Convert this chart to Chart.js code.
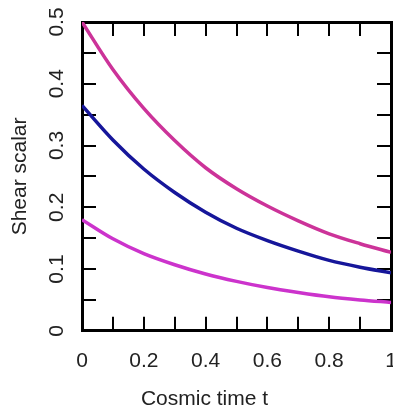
<!DOCTYPE html>
<html>
<head>
<meta charset="utf-8">
<script src="https://cdn.jsdelivr.net/npm/chart.js@4.4.1/dist/chart.umd.min.js"></script>
<style>
  html, body { margin: 0; padding: 0; background: #fff; }
  #wrap { width: 393px; height: 412px; }
</style>
</head>
<body>
<div id="wrap"><canvas id="shear-chart" width="393" height="412"></canvas></div>
<script>
// cosmic time samples and shear scalar values
var timeVals   = [0, 0.1, 0.2, 0.3, 0.4, 0.5, 0.6, 0.7, 0.8, 0.9, 1.0];
var shearUpper = [0.5, 0.423, 0.36, 0.308, 0.264, 0.23, 0.202, 0.178, 0.157, 0.141, 0.127];
var shearMid   = [0.365, 0.309, 0.262, 0.224, 0.192, 0.166, 0.146, 0.129, 0.114, 0.103, 0.094];
var shearLower = [0.18, 0.149, 0.125, 0.107, 0.092, 0.08, 0.07, 0.062, 0.055, 0.05, 0.046];

// tick label helpers: labels only on every other tick
var xLabel = function(v) { var n = Math.round(v * 10); return n % 2 === 0 ? String(n / 10) : ''; };
var yLabel = function(v) { var n = Math.round(v * 100); return n % 10 === 0 ? String(n / 100) : ''; };

function toPoints(ys) {
  return timeVals.map(function(t, i) { return {x: t, y: ys[i]}; });
}

function lineSet(ys, colour) {
  return {
    data: toPoints(ys),
    borderColor: colour,
    borderWidth: 3.5,
    pointRadius: 0,
    fill: false,
    cubicInterpolationMode: 'monotone'
  };
}

// fixed axis sizes, no overflow padding so the box lands where it should
function fixSize(w, h) {
  return function(s) {
    if (w !== null) s.width = w;
    if (h !== null) s.height = h;
    s.paddingLeft = s.paddingRight = s.paddingTop = s.paddingBottom = 0;
  };
}

var tickGrid = {drawOnChartArea: false, color: '#000', lineWidth: 2, tickLength: -14};
var boxBorder = {color: '#000', width: 3};
var labelFont = {family: 'Liberation Sans', size: 21, weight: 'normal'};

var shearChart = new Chart(document.getElementById('shear-chart'), {
  type: 'line',
  data: {
    datasets: [
      lineSet(shearUpper, '#CC3399'),
      lineSet(shearMid, '#16169A'),
      lineSet(shearLower, '#CC33CC')
    ]
  },
  options: {
    responsive: false,
    animation: false,
    layout: {padding: {top: 22, right: 2, left: 18, bottom: 0}},
    plugins: {
      legend: {display: false},
      tooltip: {enabled: false},
      // x title sits centred on the whole figure, not on the box
      title: {display: true, position: 'bottom', fullSize: true, text: 'Cosmic time t', color: '#222', font: labelFont, padding: {top: 0, bottom: 0}}
    },
    scales: {
      x: {
        type: 'linear', position: 'bottom', min: 0, max: 1,
        grid: tickGrid, border: boxBorder,
        ticks: {stepSize: 0.1, callback: xLabel, color: '#222', font: labelFont, padding: 32, maxRotation: 0, autoSkip: false},
        afterFit: fixSize(null, 56)
      },
      x2: {
        type: 'linear', position: 'top', min: 0, max: 1,
        grid: tickGrid, border: boxBorder,
        ticks: {stepSize: 0.1, display: false},
        afterFit: fixSize(null, 0)
      },
      y: {
        type: 'linear', position: 'left', min: 0, max: 0.5,
        grid: tickGrid, border: boxBorder,
        ticks: {stepSize: 0.05, callback: yLabel, color: '#222', font: labelFont, padding: 24, minRotation: 90, crossAlign: 'center', autoSkip: false},
        title: {display: true, text: 'Shear scalar', color: '#222', font: labelFont, padding: {top: -10, bottom: 0}},
        afterFit: fixSize(64, null)
      },
      y2: {
        type: 'linear', position: 'right', min: 0, max: 0.5,
        grid: tickGrid, border: boxBorder,
        ticks: {stepSize: 0.05, display: false},
        afterFit: fixSize(0, null)
      }
    }
  }
});
</script>
</body>
</html>
